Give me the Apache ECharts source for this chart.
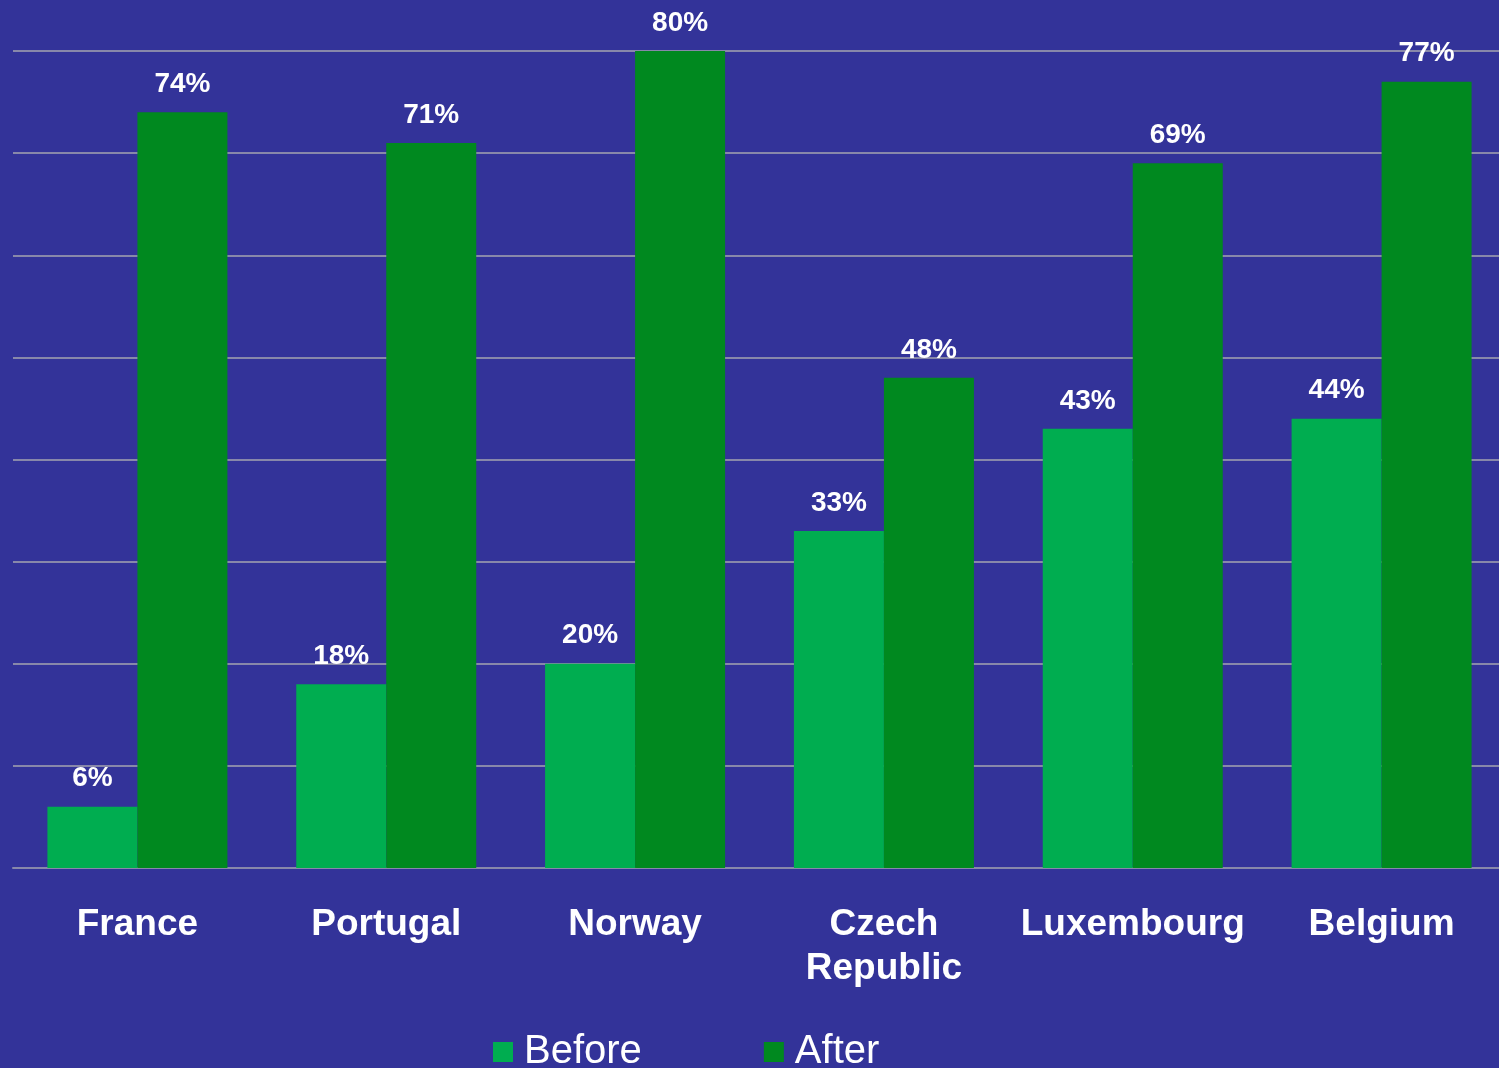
<!DOCTYPE html>
<html>
<head>
<meta charset="utf-8">
<script src="https://cdn.jsdelivr.net/npm/echarts@6/dist/echarts.min.js"></script>
<style>
  html, body { margin: 0; padding: 0; background: #333399; overflow: hidden; }
  #chart { width: 1506px; height: 1068px; }
</style>
</head>
<body>
<div id="chart"></div>
<script>
var countries = ["France", "Portugal", "Norway", "Czech\nRepublic", "Luxembourg", "Belgium"];
var beforeValues = [6, 18, 20, 33, 43, 44];
var afterValues = [74, 71, 80, 48, 69, 77];

var chart = echarts.init(document.getElementById("chart"));
var labelStyle = {
  show: true,
  position: "top",
  distance: 14,
  color: "#fff",
  fontSize: 28,
  fontWeight: "bold",
  fontFamily: "Liberation Sans, Arial",
  formatter: "{c}%"
};
var option = {
  backgroundColor: "#333399",
  animation: false,
  grid: { left: 13, right: 0, top: 51, bottom: 200 },
  legend: {
    data: ["Before", "After"],
    left: 488,
    top: 1027,
    itemWidth: 20,
    itemHeight: 20,
    itemGap: 122,
    icon: "rect",
    textStyle: { color: "#fff", fontSize: 40, fontFamily: "Liberation Sans, Arial", padding: [0, 0, 0, 6] }
  },
  xAxis: {
    type: "category",
    data: countries,
    axisLine: { show: true, lineStyle: { color: "#8888aa", width: 2 } },
    axisTick: { show: false },
    axisLabel: {
      color: "#fff",
      fontSize: 37,
      fontWeight: "bold",
      fontFamily: "Liberation Sans, Arial",
      margin: 35,
      lineHeight: 44,
      interval: 0
    }
  },
  yAxis: {
    type: "value",
    min: 0,
    max: 80,
    interval: 10,
    axisLabel: { show: false },
    axisLine: { show: false },
    axisTick: { show: false },
    splitLine: { lineStyle: { color: "#8888aa", width: 2 } }
  },
  series: [
    {
      name: "Before",
      type: "bar",
      data: beforeValues,
      barWidth: 90,
      barGap: "0%",
      itemStyle: { color: "#00ad50" },
      label: labelStyle
    },
    {
      name: "After",
      type: "bar",
      data: afterValues,
      barWidth: 90,
      barGap: "0%",
      itemStyle: { color: "#00891f" },
      label: labelStyle
    }
  ]
};
chart.setOption(option);
</script>
</body>
</html>
